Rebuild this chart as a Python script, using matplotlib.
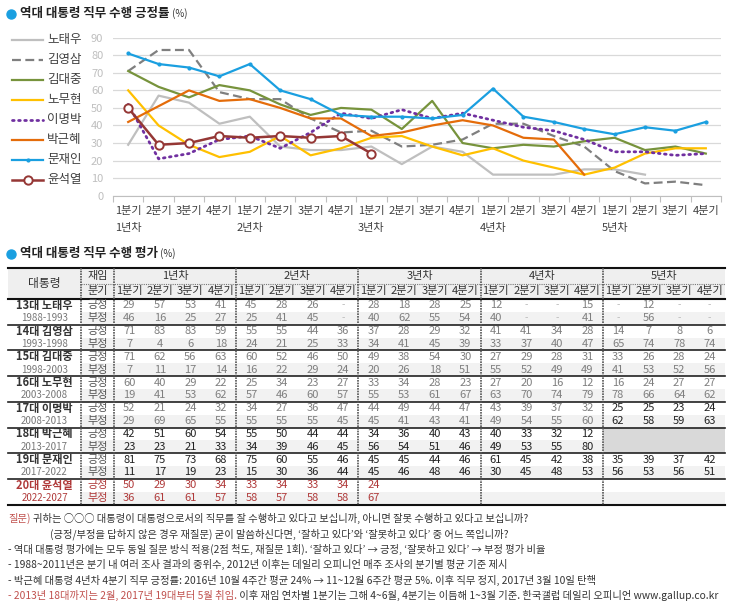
import numpy as np
import pandas as pd
import matplotlib
matplotlib.use('Agg')
import matplotlib.pyplot as plt
from matplotlib.patches import Rectangle

plt.rcParams['font.family'] = ['Noto Sans CJK KR', 'DejaVu Sans']
plt.rcParams['axes.unicode_minus'] = False

N = None

years = ['1년차', '2년차', '3년차', '4년차', '5년차']
quarters = ['1분기', '2분기', '3분기', '4분기']

presidents = ['노태우', '김영삼', '김대중', '노무현', '이명박', '박근혜', '문재인', '윤석열']
terms = ['13대', '14대', '15대', '16대', '17대', '18대', '19대', '20대']
periods = ['1988-1993', '1993-1998', '1998-2003', '2003-2008',
           '2008-2013', '2013-2017', '2017-2022', '2022-2027']

# 긍정 / 부정 (%), 20 quarters each
roh_tw_pos = [29, 57, 53, 41, 45, 28, 26, N, 28, 18, 28, 25, 12, N, N, 15, N, 12, N, N]
roh_tw_neg = [46, 16, 25, 27, 25, 41, 45, N, 40, 62, 55, 54, 40, N, N, 41, N, 56, N, N]
kim_ys_pos = [71, 83, 83, 59, 55, 55, 44, 36, 37, 28, 29, 32, 41, 41, 34, 28, 14, 7, 8, 6]
kim_ys_neg = [7, 4, 6, 18, 24, 21, 25, 33, 34, 41, 45, 39, 33, 37, 40, 47, 65, 74, 78, 74]
kim_dj_pos = [71, 62, 56, 63, 60, 52, 46, 50, 49, 38, 54, 30, 27, 29, 28, 31, 33, 26, 28, 24]
kim_dj_neg = [7, 11, 17, 14, 16, 22, 29, 24, 20, 26, 18, 51, 55, 52, 49, 49, 41, 53, 52, 56]
roh_mh_pos = [60, 40, 29, 22, 25, 34, 23, 27, 33, 34, 28, 23, 27, 20, 16, 12, 16, 24, 27, 27]
roh_mh_neg = [19, 41, 53, 62, 57, 46, 60, 57, 55, 53, 61, 67, 63, 70, 74, 79, 78, 66, 64, 62]
lee_mb_pos = [52, 21, 24, 32, 34, 27, 36, 47, 44, 49, 44, 47, 43, 39, 37, 32, 25, 25, 23, 24]
lee_mb_neg = [29, 69, 65, 55, 55, 55, 55, 45, 45, 41, 43, 41, 49, 54, 55, 60, 62, 58, 59, 63]
park_gh_pos = [42, 51, 60, 54, 55, 50, 44, 44, 34, 36, 40, 43, 40, 33, 32, 12, N, N, N, N]
park_gh_neg = [23, 23, 21, 33, 34, 39, 46, 45, 56, 54, 51, 46, 49, 53, 55, 80, N, N, N, N]
moon_ji_pos = [81, 75, 73, 68, 75, 60, 55, 46, 45, 45, 44, 46, 61, 45, 42, 38, 35, 39, 37, 42]
moon_ji_neg = [11, 17, 19, 23, 15, 30, 36, 44, 45, 46, 48, 46, 30, 45, 48, 53, 56, 53, 56, 51]
yoon_sy_pos = [50, 29, 30, 34, 33, 34, 33, 34, 24]
yoon_sy_neg = [36, 61, 61, 57, 58, 57, 58, 58, 67]

pos_all = [roh_tw_pos, kim_ys_pos, kim_dj_pos, roh_mh_pos,
           lee_mb_pos, park_gh_pos, moon_ji_pos, yoon_sy_pos]
neg_all = [roh_tw_neg, kim_ys_neg, kim_dj_neg, roh_mh_neg,
           lee_mb_neg, park_gh_neg, moon_ji_neg, yoon_sy_neg]

styles = [
    dict(color='#bfbfbf', lw=1.6),
    dict(color='#7f7f7f', lw=1.6, ls=(0, (4, 2))),
    dict(color='#77933c', lw=1.6),
    dict(color='#ffc000', lw=1.6),
    dict(color='#7030a0', lw=2.0, ls=(0, (0.6, 1.6)), dash_capstyle='round'),
    dict(color='#e46c0a', lw=1.6),
    dict(color='#1a9fe0', lw=1.6, marker='o', ms=2),
    dict(color='#953735', lw=1.8, marker='o', ms=6, mfc='white', mew=1.4),
]

DARK = '#404040'
RED = '#b03a3a'

fig = plt.figure(figsize=(7.41, 6.08), dpi=100)
ov = fig.add_axes([0, 0, 1, 1])
ov.set_xlim(0, 741)
ov.set_ylim(608, 0)
ov.axis('off')


def to_series(vals):
    s = pd.Series([np.nan if v is None else v for v in vals], dtype=float)
    s = s.reindex(range(20))
    last = s.last_valid_index()
    s = s.ffill()
    s[s.index > last] = np.nan
    return s


def chained(t0, txt, **kw):
    return ov.annotate(txt, xy=(1, 0.5), xycoords=t0, va='center', ha='left', **kw)


# ---------- line chart ----------
ov.plot([11], [14], 'o', color='#1a9fe0', ms=6.5)
t = ov.text(20, 14, '역대 대통령 직무 수행 긍정률', fontsize=9, fontweight='bold',
            color='#222222', va='center')
chained(t, ' (%)', fontsize=7, color='#333333')

ax = fig.add_axes([113 / 741, 1 - 195.7 / 608, 608 / 741, 158 / 608])
x = np.arange(20)
for i, (name, vals, st) in enumerate(zip(presidents, pos_all, styles)):
    s = to_series(vals)
    ax.plot(x, s.values, zorder=3 + i, clip_on=False, **st)
    ly = 40 + 20 * i
    ov.plot([12, 27.5, 43], [ly, ly, ly], markevery=[1], **st)
    ov.text(47, ly, name, fontsize=9, color=DARK, va='center')

ax.set_xlim(-0.5, 19.5)
ax.set_ylim(0, 90)
ax.set_yticks(range(0, 91, 10))
ax.tick_params(axis='y', length=0, pad=7, labelcolor='#bfbfbf', labelsize=8)
ax.yaxis.grid(True, color='#d9d9d9', lw=0.9)
ax.set_axisbelow(True)
ax.set_xticks(np.arange(-0.5, 20, 1))
ax.set_xticklabels([])
ax.tick_params(axis='x', which='major', length=4, color='#bfbfbf')
ax.set_xticks(x, minor=True)
ax.set_xticklabels(quarters * 5, minor=True)
ax.tick_params(axis='x', which='minor', length=0, pad=7.5, labelsize=8, labelcolor=DARK)
for sp in ['top', 'right', 'left']:
    ax.spines[sp].set_visible(False)
ax.spines['bottom'].set_color('#bfbfbf')
for k, yr in enumerate(years):
    ax.text(4 * k, -0.205, yr, transform=ax.get_xaxis_transform(), ha='center',
            va='center', fontsize=8, color=DARK)

# ---------- table ----------
ov.plot([11], [254], 'o', color='#1a9fe0', ms=6.5)
t = ov.text(20, 254, '역대 대통령 직무 수행 평가', fontsize=9, fontweight='bold',
            color='#222222', va='center')
chained(t, ' (%)', fontsize=7, color='#333333')

X0, X1, X2, XR = 8, 81, 114, 725
Y0, Y1, Y2 = 268, 283.5, 299
RH = 12.85
CW = (XR - X2) / 20
YB = Y2 + 16 * RH

ov.add_patch(Rectangle((X0, Y0), XR - X0, Y2 - Y0, color='#efefef', lw=0, zorder=0))
for i in range(8):
    ov.add_patch(Rectangle((X1, Y2 + (2 * i + 1) * RH), XR - X1, RH,
                           color='#f2f2f2', lw=0, zorder=0))
ov.add_patch(Rectangle((X2 + 16 * CW, Y2 + 10 * RH), 4 * CW, 2 * RH,
                       color='#d9d9d9', lw=0, zorder=0))

ov.text((X0 + X1) / 2, Y1, '대통령', ha='center', va='center', fontsize=8.5, color='#333333')
ov.text((X1 + X2) / 2, (Y0 + Y1) / 2, '재임', ha='center', va='center', fontsize=8, color='#333333')
ov.text((X1 + X2) / 2, (Y1 + Y2) / 2, '분기', ha='center', va='center', fontsize=8, color='#333333')
for k, yr in enumerate(years):
    ov.text(X2 + (4 * k + 2) * CW, (Y0 + Y1) / 2, yr, ha='center', va='center',
            fontsize=8, color='#333333')
    for q, qn in enumerate(quarters):
        ov.text(X2 + (4 * k + q + 0.5) * CW, (Y1 + Y2) / 2, qn, ha='center',
                va='center', fontsize=8, color='#333333')

for i in range(8):
    red = i == 7
    yp = Y2 + (2 * i + 0.5) * RH
    yn = yp + RH
    ov.text((X0 + X1) / 2, yp, f'{terms[i]} {presidents[i]}', ha='center', va='center',
            fontsize=8, fontweight='bold', color=RED if red else '#333333')
    ov.text((X0 + X1) / 2, yn, periods[i], ha='center', va='center', fontsize=7,
            color=RED if red else '#777777')
    ov.text((X1 + X2) / 2, yp, '긍정', ha='center', va='center', fontsize=8,
            color=RED if red else '#555555')
    ov.text((X1 + X2) / 2, yn, '부정', ha='center', va='center', fontsize=8,
            color=RED if red else '#555555')
    for row_vals, yy in ((pos_all[i], yp), (neg_all[i], yn)):
        for j, v in enumerate(row_vals):
            cx = X2 + (j + 0.5) * CW
            if v is None:
                if i == 0:
                    ov.text(cx, yy, '-', ha='center', va='center', fontsize=7, color='#bbbbbb')
                continue
            if red:
                c, w = RED, 'normal'
            elif i >= 5 or (i == 4 and j >= 16):
                c, w = '#222222', 'medium'
            else:
                c, w = '#7f7f7f', 'normal'
            ov.text(cx, yy, str(v), ha='center', va='center', fontsize=8, color=c, fontweight=w)

# grid lines of table
ov.plot([X0, XR], [Y0, Y0], color='#111111', lw=1.5)
ov.plot([X1, XR], [Y1, Y1], color='#777777', lw=0.8, ls=(0, (1, 1)))
ov.plot([X0, XR], [Y2, Y2], color='#111111', lw=1.5)
for i in range(1, 8):
    yy = Y2 + 2 * i * RH
    ov.plot([X0, XR], [yy, yy], color='#222222', lw=1.2)
ov.plot([X0, XR], [YB, YB], color='#111111', lw=1.5)
for xx in [X1, X2] + [X2 + 4 * k * CW for k in range(1, 5)]:
    ov.plot([xx, xx], [Y0, YB], color='#555555', lw=1.2, ls=(0, (1, 0.6)))

# ---------- notes ----------
NFS = 7.4
NC = '#333333'
NRED = '#c0504d'
ov.text(8, 518, '질문)', fontsize=NFS, color=NRED, va='center')
ov.text(33, 518, '귀하는 ○○○ 대통령이 대통령으로서의 직무를 잘 수행하고 있다고 보십니까, '
        '아니면 잘못 수행하고 있다고 보십니까?', fontsize=NFS, color=NC, va='center')
ov.text(50, 534, '(긍정/부정을 답하지 않은 경우 재질문) 굳이 말씀하신다면, '
        '‘잘하고 있다’와 ‘잘못하고 있다’ 중 어느 쪽입니까?', fontsize=NFS, color=NC, va='center')
ov.text(8, 549, '- 역대 대통령 평가에는 모두 동일 질문 방식 적용(2점 척도, 재질문 1회). '
        '‘잘하고 있다’ → 긍정, ‘잘못하고 있다’ → 부정 평가 비율', fontsize=NFS, color=NC, va='center')
ov.text(8, 564, '- 1988~2011년은 분기 내 여러 조사 결과의 중위수, 2012년 이후는 데일리 오피니언 '
        '매주 조사의 분기별 평균 기준 제시', fontsize=NFS, color=NC, va='center')
ov.text(8, 580, '- 박근혜 대통령 4년차 4분기 직무 긍정률: 2016년 10월 4주간 평균 24% → '
        '11~12월 6주간 평균 5%. 이후 직무 정지, 2017년 3월 10일 탄핵', fontsize=NFS, color=NC, va='center')
t = ov.text(8, 595, '- 2013년 18대까지는 2월, 2017년 19대부터 5월 취임.', fontsize=NFS,
            color=NRED, va='center')
chained(t, ' 이후 재임 연차별 1분기는 그해 4~6월, 4분기는 이듬해 1~3월 기준. '
        '한국갤럽 데일리 오피니언 www.gallup.co.kr', fontsize=NFS, color=NC)

fig.savefig('out.png', dpi=100)
